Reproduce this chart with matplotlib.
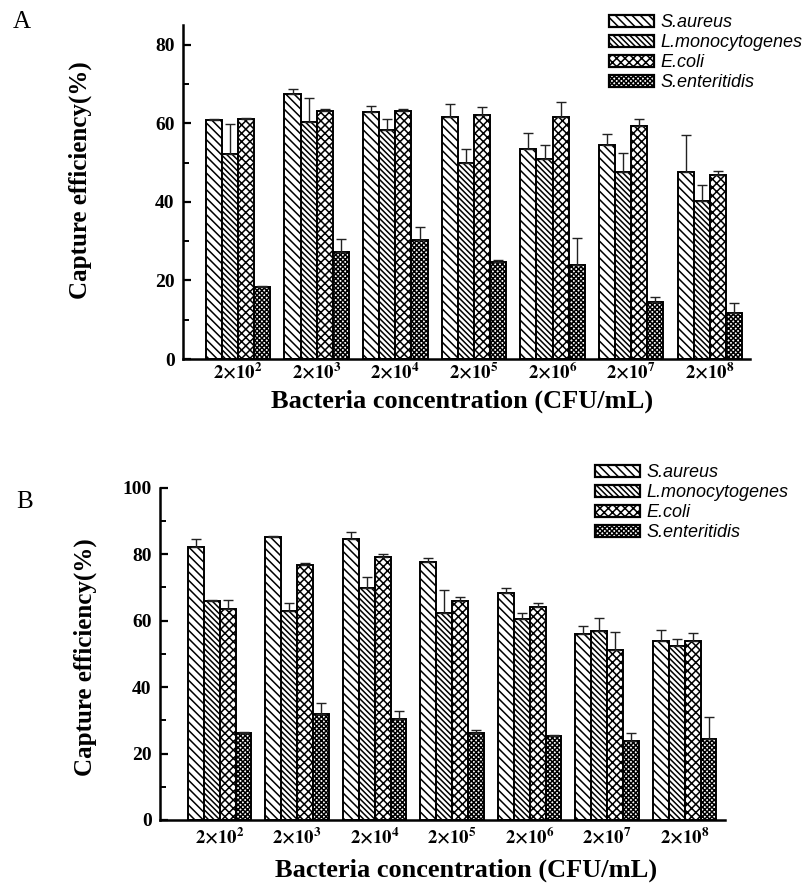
import numpy as np
import matplotlib
matplotlib.use("Agg")
import matplotlib.pyplot as plt
from matplotlib.patches import Patch
from matplotlib.ticker import MultipleLocator

species = ["S.aureus", "L.monocytogenes", "E.coli", "S.enteritidis"]
exponents = [2, 3, 4, 5, 6, 7, 8]

# Panel A: capture efficiency (%) and upper error per species
a_aureus = [60.8, 67.4, 62.8, 61.7, 53.5, 54.5, 47.5]
a_listeria = [52.1, 60.3, 58.2, 49.8, 50.9, 47.5, 40.3]
a_ecoli = [61.0, 63.0, 63.0, 62.2, 61.5, 59.2, 46.9]
a_salmonella = [18.4, 27.2, 30.3, 24.8, 24.0, 14.6, 11.6]
a_aureus_err = [0.3, 1.3, 1.5, 3.3, 4.0, 2.7, 9.6]
a_listeria_err = [7.6, 6.0, 3.0, 3.7, 3.5, 4.9, 4.0]
a_ecoli_err = [0.3, 0.5, 0.5, 1.9, 3.8, 2.0, 0.9]
a_salmonella_err = [0.3, 3.4, 3.2, 0.3, 6.9, 1.3, 2.6]

# Panel B
b_aureus = [82.1, 85.3, 84.6, 77.5, 68.2, 55.9, 54.0]
b_listeria = [66.0, 63.0, 69.9, 62.4, 60.4, 57.0, 52.4]
b_ecoli = [63.5, 76.7, 79.2, 65.9, 64.2, 51.2, 54.0]
b_salmonella = [26.3, 31.9, 30.3, 26.1, 25.3, 23.9, 24.3]
b_aureus_err = [2.5, 0.3, 2.1, 1.2, 1.5, 2.5, 3.2]
b_listeria_err = [0.2, 2.2, 3.1, 6.8, 1.8, 3.9, 2.0]
b_ecoli_err = [2.6, 0.5, 0.8, 1.3, 1.2, 5.3, 2.2]
b_salmonella_err = [0.3, 3.2, 2.6, 1.0, 0.3, 2.2, 6.8]

hatches = ["\\\\\\\\", "\\\\\\\\\\\\", "xxxx", "xxxxxxx"]

W, H = 809, 885
plt.rcParams["hatch.linewidth"] = 1.1
plt.rcParams["mathtext.fontset"] = "stix"
SERIF = "Liberation Serif"


def fx(px):
    return px / W


def fy(py):
    return 1 - py / H


def draw_panel(ax, values, errors, ylim, major, xpad):
    x = np.arange(len(exponents))
    width = 0.205
    for i, (vals, errs) in enumerate(zip(values, errors)):
        pos = x + (i - 1.5) * width
        ax.bar(pos, vals, width, color="white", edgecolor="black",
               linewidth=1.4, hatch=hatches[i], zorder=2)
        ax.errorbar(pos, vals, yerr=[np.zeros(len(errs)), errs], fmt="none",
                    ecolor="#222222", elinewidth=1.0, capsize=3.8,
                    capthick=1.0, zorder=3)
    ax.set_ylim(*ylim)
    ax.yaxis.set_major_locator(MultipleLocator(major))
    ax.yaxis.set_minor_locator(MultipleLocator(major / 2))
    ax.set_xticks(x)
    ax.set_xticklabels([r"$\mathbf{2{\times}10^{%d}}$" % e for e in exponents],
                       fontsize=13.5)
    for s in ["top", "right"]:
        ax.spines[s].set_visible(False)
    for s in ["left", "bottom"]:
        ax.spines[s].set_linewidth(1.8)
    ax.tick_params(axis="y", which="major", direction="in", length=6,
                   width=1.6, pad=6)
    ax.tick_params(axis="y", which="minor", direction="in", length=4,
                   width=1.4)
    ax.tick_params(axis="x", length=0, pad=xpad)
    for lbl in ax.get_yticklabels():
        lbl.set_fontfamily(SERIF)
        lbl.set_fontweight("bold")
        lbl.set_fontsize(14)


fig = plt.figure(figsize=(W / 100, H / 100), dpi=100)

ax_a = fig.add_axes([fx(183), fy(359), fx(750 - 183), (359 - 25) / H])
ax_a.set_xlim(-0.70, 6.51)
draw_panel(ax_a,
           [a_aureus, a_listeria, a_ecoli, a_salmonella],
           [a_aureus_err, a_listeria_err, a_ecoli_err, a_salmonella_err],
           (0, 85), 20, 2)

ax_b = fig.add_axes([fx(160), fy(820), fx(725 - 160), (820 - 487.7) / H])
ax_b.set_xlim(-0.77, 6.52)
draw_panel(ax_b,
           [b_aureus, b_listeria, b_ecoli, b_salmonella],
           [b_aureus_err, b_listeria_err, b_ecoli_err, b_salmonella_err],
           (0, 100), 20, 5)

handles = [Patch(facecolor="white", edgecolor="black", linewidth=1.6,
                 hatch=h) for h in hatches]
for ax, (lx, ly) in [(ax_a, (609, 14)), (ax_b, (595, 464))]:
    fig.legend(handles, species, loc="upper left",
               bbox_to_anchor=(fx(lx), fy(ly)), frameon=False,
               prop={"family": "Liberation Sans", "style": "italic",
                     "size": 13},
               handlelength=2.5, handleheight=0.65, handletextpad=0.33,
               labelspacing=0.17, borderpad=0, borderaxespad=0)

ylabel_font = dict(family=SERIF, weight="bold", size=18)
xlabel_font = dict(family=SERIF, weight="bold", size=19)

fig.text(fx(80), fy(180), "Capture efficiency(%)", rotation=90,
         ha="center", va="center", **ylabel_font)
fig.text(fx(85), fy(657), "Capture efficiency(%)", rotation=90,
         ha="center", va="center", **ylabel_font)
fig.text(fx(462), fy(408), "Bacteria concentration (CFU/mL)",
         ha="center", va="baseline", **xlabel_font)
fig.text(fx(466), fy(877), "Bacteria concentration (CFU/mL)",
         ha="center", va="baseline", **xlabel_font)

fig.text(fx(22), fy(22), "A", family=SERIF, size=18, ha="center",
         va="center")
fig.text(fx(25), fy(502), "B", family=SERIF, size=18, ha="center",
         va="center")

fig.savefig("out.png", dpi=100)
